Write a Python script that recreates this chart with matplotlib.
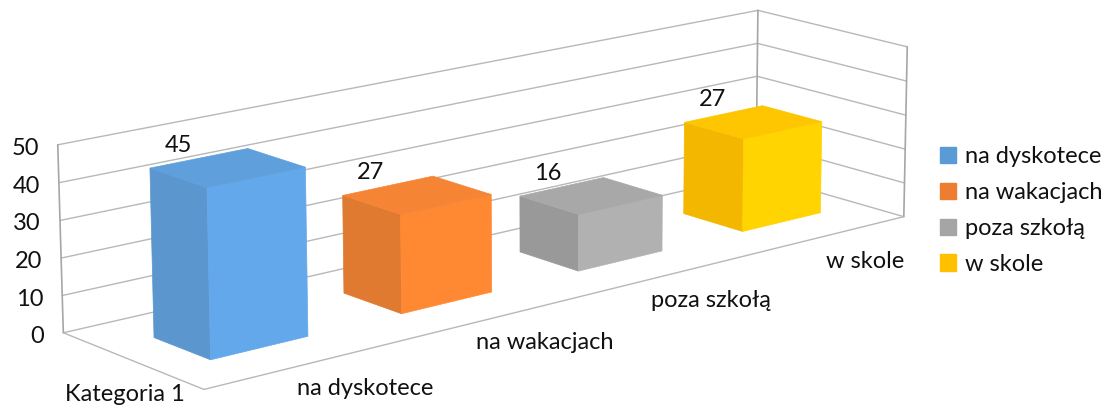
import numpy as np
import matplotlib
matplotlib.use("Agg")
import matplotlib.pyplot as plt
from matplotlib.patches import Polygon, Patch

plt.rcParams['font.family'] = ['Lato', 'DejaVu Sans']

# data
category = "Kategoria 1"
series = ["na dyskotece", "na wakacjach", "poza szkołą", "w skole"]
values = [45, 27, 16, 27]
ticks = [0, 10, 20, 30, 40, 50]

# colours: legend, lit face, side face, top face
legend_colors = ["#5B9BD5", "#ED7D31", "#A5A5A5", "#FFC000"]
front_colors = ["#63A8EA", "#FF8933", "#B1B1B1", "#FFD400"]
side_colors = ["#5B97CE", "#DF7A30", "#999999", "#F3B700"]
top_colors = ["#5F9FDC", "#F58434", "#A8A8A8", "#FDC600"]

# projection calibration: (series pos, depth, value) -> pixel
calib_3d = [(0, 0, 0), (0, 1, 0), (0, 1, 50), (4, 1, 0), (4, 1, 50), (4, 0, 0), (4, 0, 50)]
calib_px = [(204, 390), (63, 332), (58, 145), (757, 175), (757, 10), (903, 216), (908, 47)]


def fit_camera(pts3, pts2):
    rows = []
    for (X, Y, Z), (u, v) in zip(pts3, pts2):
        p = [X, Y, Z / 50, 1]
        rows.append(p + [0, 0, 0, 0] + [-u * a for a in p])
        rows.append([0, 0, 0, 0] + p + [-v * a for a in p])
    return np.linalg.svd(np.array(rows, float))[2][-1].reshape(3, 4)


CAM = fit_camera(calib_3d, calib_px)


def proj(s, c, z):
    h = CAM @ np.array([s, c, z / 50, 1.0])
    return h[0] / h[2], h[1] / h[2]


FS = 17
fig = plt.figure(figsize=(11.17, 4.08), dpi=100)
ax = fig.add_axes([0, 0, 1, 1])
ax.set_xlim(0, 1117)
ax.set_ylim(408, 0)
ax.axis("off")

GRID = "#B8B8B8"
EDGE = "#A6A6A6"


def line(a, b, color=GRID, lw=1.0):
    ax.plot([a[0], b[0]], [a[1], b[1]], color=color, lw=lw, solid_capstyle="round", zorder=1)


n = len(series)
for t in ticks:
    line(proj(0, 1, t), proj(n, 1, t))
    line(proj(n, 1, t), proj(n, 0, t))
line(proj(0, 1, 0), proj(0, 1, 50), EDGE, 1.2)
line(proj(n, 1, 0), proj(n, 1, 50), EDGE, 1.2)
line(proj(n, 0, 0), proj(n, 0, 50), EDGE, 1.2)
line(proj(0, 1, 0), proj(0, 0, 0))
line(proj(0, 0, 0), proj(n, 0, 0))

# value tick labels
for t in ticks:
    x, y = proj(0, 1, t)
    ax.text(x - 19, y + 3.5, str(t), ha="right", va="center", fontsize=FS, color="#111111")

# bars
GAP_S, GAP_C = 0.25, 0.30
for i, v in enumerate(values):
    s0, s1 = i + GAP_S, i + 1 - GAP_S
    c0, c1 = GAP_C, 1 - GAP_C
    side = [proj(s0, c1, 0), proj(s0, c0, 0), proj(s0, c0, v), proj(s0, c1, v)]
    front = [proj(s0, c0, 0), proj(s1, c0, 0), proj(s1, c0, v), proj(s0, c0, v)]
    top = [proj(s0, c0, v), proj(s1, c0, v), proj(s1, c1, v), proj(s0, c1, v)]
    for poly, col in ((side, side_colors[i]), (front, front_colors[i]), (top, top_colors[i])):
        ax.add_patch(Polygon(poly, closed=True, facecolor=col, edgecolor=col, lw=0.5, zorder=3))
    lx, ly = proj(s0, c1, v)
    ax.text(lx + 28, ly - 22.5, str(v), ha="center", va="center", fontsize=FS, color="#111111", zorder=4)

# axis labels
for i, name in enumerate(series):
    x, y = proj(i + 0.5 - 0.055 * i, -0.41, 0)
    ax.text(x, y, name, ha="center", va="center", fontsize=FS, color="#111111")
x, y = proj(0, 0.5, 0)
ax.text(x - 7, y + 34, category, ha="center", va="center", fontsize=FS, color="#111111")

# legend
handles = [Patch(facecolor=c, edgecolor=c, label=s) for c, s in zip(legend_colors, series)]
ax.legend(handles=handles, loc="center left", bbox_to_anchor=(940 / 1117, 1 - 210.5 / 408),
          frameon=False, fontsize=FS, handlelength=0.68, handleheight=0.68,
          handletextpad=0.38, labelspacing=0.63, borderpad=0, borderaxespad=0,
          labelcolor="#111111")

fig.savefig("out.png", dpi=100)
